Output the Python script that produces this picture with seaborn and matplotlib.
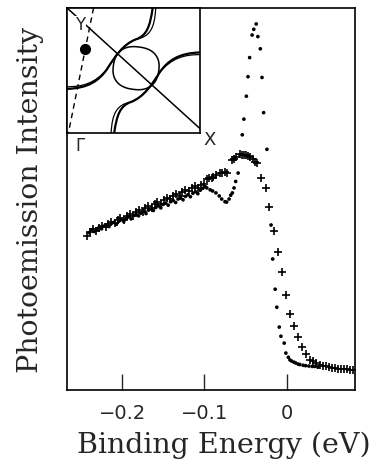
import numpy as np
import pandas as pd
import seaborn as sns
import matplotlib
matplotlib.use("Agg")
import matplotlib.pyplot as plt
from matplotlib.path import Path
from matplotlib.patches import PathPatch

# 데이터: binding energy (eV) / intensity (arb. units)
dot_energy = [-0.240, -0.237, -0.234, -0.231, -0.228, -0.225, -0.222, -0.219, -0.216, -0.213,
              -0.210, -0.207, -0.204, -0.201, -0.198, -0.195, -0.192, -0.189, -0.186, -0.183,
              -0.180, -0.177, -0.174, -0.171, -0.168, -0.165, -0.162, -0.159, -0.156, -0.153,
              -0.150, -0.147, -0.144, -0.141, -0.138, -0.135, -0.132, -0.129, -0.126, -0.123,
              -0.120, -0.117, -0.114, -0.111, -0.108, -0.105, -0.102, -0.099,
              -0.097, -0.093, -0.090, -0.086, -0.082, -0.079, -0.075, -0.073, -0.070, -0.068,
              -0.066, -0.064, -0.062, -0.059, -0.054, -0.052, -0.049, -0.047, -0.045, -0.042,
              -0.040, -0.037, -0.035, -0.032, -0.030, -0.028, -0.024, -0.019, -0.017, -0.014,
              -0.012, -0.009, -0.007, -0.003, -0.001, 0.002, 0.004, 0.006, 0.009, 0.011,
              0.014, 0.016, 0.020, 0.023, 0.027, 0.031, 0.034, 0.038]
dot_intensity = [41.2, 41.9, 41.5, 42.0, 42.6, 42.2, 42.9, 43.1, 42.8, 43.6,
                 43.9, 43.4, 44.2, 44.6, 44.1, 44.9, 45.3, 44.8, 45.7, 46.0,
                 45.6, 46.3, 46.8, 46.2, 47.1, 47.4, 47.0, 47.8, 48.2, 47.7,
                 48.6, 48.9, 48.4, 49.3, 49.6, 49.1, 50.0, 50.3, 49.8, 50.7,
                 51.1, 50.6, 51.5, 51.9, 51.4, 52.3, 52.8, 53.2,
                 52.9, 52.4, 52.1, 51.6, 50.8, 50.0, 49.3, 49.2, 50.0, 51.0,
                 51.6, 52.9, 54.6, 56.8, 66.8, 70.9, 76.9, 82.0, 87.0, 92.9,
                 94.4, 95.8, 92.5, 89.3, 81.8, 72.6, 63.0, 43.2, 34.3, 26.4,
                 21.7, 16.5, 14.1, 12.3, 9.7, 8.6, 7.9, 7.6, 7.3, 7.1,
                 6.8, 6.7, 6.5, 6.4, 6.3, 6.2, 6.2, 6.0]

cross_energy = [-0.243, -0.239, -0.235, -0.232, -0.228, -0.224, -0.220, -0.217, -0.213, -0.209,
                -0.205, -0.202, -0.198, -0.194, -0.190, -0.187, -0.183, -0.179, -0.175, -0.172,
                -0.168, -0.164, -0.160, -0.157, -0.153, -0.149, -0.145, -0.142, -0.138, -0.134,
                -0.130, -0.127, -0.123, -0.119, -0.115, -0.112, -0.108, -0.104, -0.101,
                -0.097, -0.094, -0.091, -0.089, -0.086, -0.081, -0.078, -0.075, -0.073,
                -0.067, -0.064, -0.061, -0.057, -0.054, -0.052, -0.049, -0.047, -0.044, -0.041,
                -0.039, -0.036, -0.031, -0.025, -0.022, -0.016, -0.011, -0.006, -0.001, 0.004,
                0.009, 0.014, 0.019, 0.023, 0.028, 0.032, 0.036, 0.040, 0.044, 0.048,
                0.051, 0.055, 0.059, 0.062, 0.066, 0.070, 0.073, 0.077, 0.081]
cross_intensity = [40.4, 41.5, 42.1, 41.7, 42.5, 43.0, 42.6, 43.5, 43.9, 43.6,
                   44.5, 45.0, 44.6, 45.5, 46.0, 45.6, 46.5, 47.1, 46.7, 47.6,
                   48.1, 47.7, 48.6, 49.1, 48.8, 49.7, 50.2, 49.9, 50.8, 51.3,
                   50.9, 51.8, 52.3, 52.0, 52.8, 53.3, 53.0, 53.6, 53.9,
                   55.2, 55.5, 55.6, 55.7, 56.2, 56.9, 56.9, 57.1, 56.9,
                   60.2, 60.6, 61.1, 61.8, 61.6, 61.5, 61.4, 61.3, 60.9, 60.4,
                   59.8, 59.4, 55.4, 52.9, 48.0, 41.6, 36.1, 31.0, 24.9, 20.0,
                   16.9, 13.9, 11.3, 9.5, 8.0, 7.5, 7.0, 6.6, 6.3, 6.2,
                   6.0, 5.9, 5.8, 5.6, 5.5, 5.5, 5.4, 5.2, 5.2]

x_ticks = [-0.2, -0.1, 0]
x_ticklabels = ["\u22120.2", "\u22120.1", "0"]

# inset (Fermi surface sketch), unit square Gamma-X-Y, cubic bezier points
fs_thick = [(0.0, 0.355), (0.16, 0.36), (0.24, 0.42), (0.30, 0.51),
            (0.36, 0.61), (0.42, 0.71), (0.52, 0.75),
            (0.60, 0.78), (0.625, 0.85), (0.645, 1.0)]
fs_thin = [(0.0, 0.372), (0.12, 0.372), (0.21, 0.40), (0.30, 0.51),
           (0.36, 0.61), (0.42, 0.71), (0.52, 0.75),
           (0.62, 0.77), (0.66, 0.83), (0.668, 1.0)]
kpath_dashed = [(0.20, 1.0), (0.01, 0.0)]
kpoint = (0.133, 0.672)

sns.set_style("white")
plt.rcParams['font.family'] = ['DejaVu Serif']

df_dot = pd.DataFrame({"E": dot_energy, "I": dot_intensity})
df_cross = pd.DataFrame({"E": cross_energy, "I": cross_intensity})

fig = plt.figure(figsize=(3.85, 4.65), dpi=100)
ax = fig.add_axes([0.174, 0.161, 0.748, 0.822])

sns.scatterplot(data=df_dot, x="E", y="I", ax=ax, color="black", s=7,
                marker="o", edgecolor="none")
sns.scatterplot(data=df_cross, x="E", y="I", ax=ax, color="black", s=32,
                marker="+", linewidth=1.2)

ax.set_xlim(-0.267, 0.083)
ax.set_ylim(0, 100)
ax.set_xticks(x_ticks)
ax.set_xticklabels(x_ticklabels, fontsize=14, family="DejaVu Sans")
ax.set_yticks([])
ax.tick_params(axis="x", direction="in", length=11.5, width=1.0, pad=10,
               bottom=True, top=False)
for sp in ax.spines.values():
    sp.set_color("black")
    sp.set_linewidth(1.2)
ax.set_xlabel("Binding Energy (eV)", fontsize=20.5)
ax.set_ylabel("Photoemission Intensity", fontsize=20.5)
ax.xaxis.label.set_va("center")
ax.yaxis.label.set_va("center")
ax.xaxis.set_label_coords(0.545, -0.144)
ax.yaxis.set_label_coords(-0.128, 0.497)

# 插圖
axi = fig.add_axes([0.174, 0.713, 0.345, 0.270])
axi.set_xlim(0, 1)
axi.set_ylim(0, 1)
axi.set_xticks([])
axi.set_yticks([])
for sp in axi.spines.values():
    sp.set_color("black")
    sp.set_linewidth(1.2)


def bezier(pts, lw):
    codes = [Path.MOVETO] + [Path.CURVE4] * (len(pts) - 1)
    p1 = Path(pts, codes)
    rot = [(1 - u, 1 - v) for u, v in pts]
    p2 = Path(rot, codes)
    for p in (p1, p2):
        axi.add_patch(PathPatch(p, facecolor="none", edgecolor="black", lw=lw))


bezier(fs_thick, 1.6)
bezier(fs_thin, 0.9)

# 中間的圓角方形
t = np.linspace(0, 2 * np.pi, 200)
n = 2.4
cu = np.sign(np.cos(t)) * np.abs(np.cos(t)) ** (2 / n) * 0.172
cv = np.sign(np.sin(t)) * np.abs(np.sin(t)) ** (2 / n) * 0.17
ang = np.deg2rad(-8)
axi.plot(0.52 + cu * np.cos(ang) - cv * np.sin(ang),
         0.52 + cu * np.sin(ang) + cv * np.cos(ang), color="black", lw=1.1)

axi.plot([0.0, 1.0], [1.0, 0.04], color="black", lw=1.1)
axi.plot([kpath_dashed[0][0], kpath_dashed[1][0]],
         [kpath_dashed[0][1], kpath_dashed[1][1]], color="black", lw=1.0,
         ls=(0, (4, 3)))
axi.plot([kpoint[0]], [kpoint[1]], "o", color="black", ms=7)

axi.text(0.1, 0.86, "Y", fontsize=12, family="DejaVu Sans", ha="center",
         va="center", bbox=dict(fc="white", ec="none", pad=0.5))
axi.text(0.1, -0.10, "\u0393", fontsize=12, family="DejaVu Sans", ha="center",
         va="center", clip_on=False)
axi.text(1.075, -0.055, "X", fontsize=13, family="DejaVu Sans", ha="center",
         va="center", clip_on=False)

fig.savefig("out.png", dpi=100)
